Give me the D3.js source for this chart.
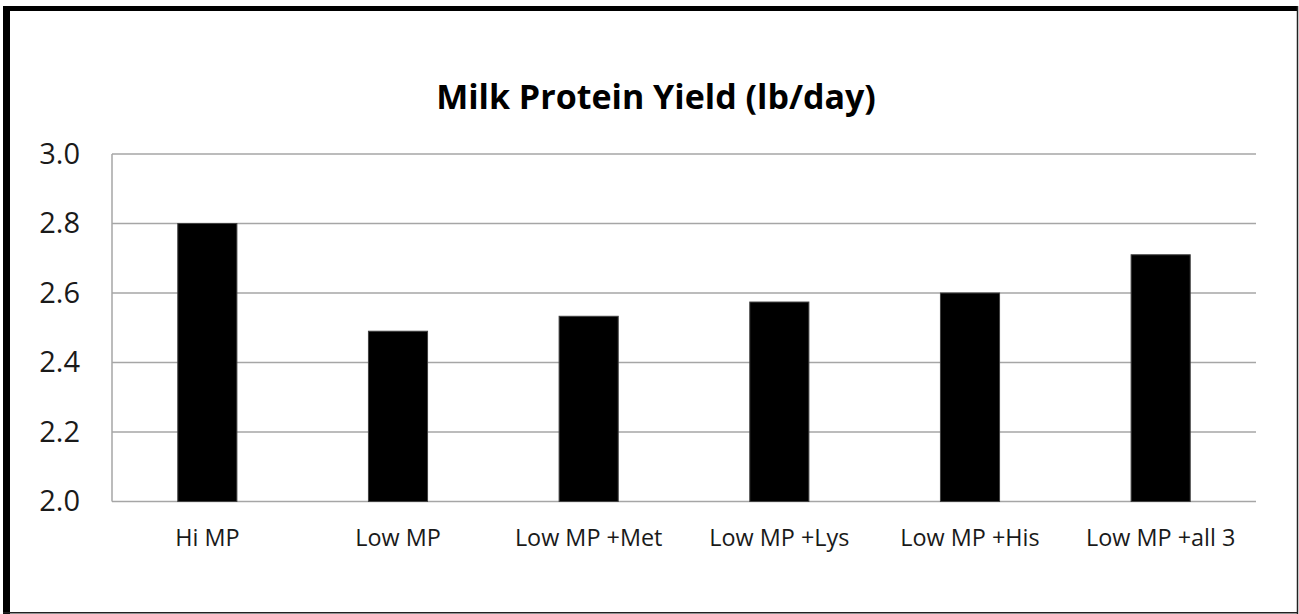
<!DOCTYPE html>
<html>
<head>
<meta charset="utf-8">
<script src="https://cdn.jsdelivr.net/npm/d3@7"></script>
<style>
  html, body { margin: 0; padding: 0; background: #fff; }
  svg { display: block; }
</style>
</head>
<body>
<svg id="chart" width="1299" height="614"></svg>
<script>
// Milk protein yield by diet treatment
const categories = ["Hi MP", "Low MP", "Low MP +Met", "Low MP +Lys", "Low MP +His", "Low MP +all 3"];
const proteinYield = [2.80, 2.49, 2.533, 2.574, 2.60, 2.71];
const yTicks = [2.0, 2.2, 2.4, 2.6, 2.8, 3.0];
const titleText = "Milk Protein Yield (lb/day)";

const svg = d3.select("#chart");
const W = 1299, H = 614;
const plot = { left: 112, right: 1256, top: 154, bottom: 501.5 };

// frame around the chart: heavy top/left edges, thin right/bottom edges
svg.append("rect").attr("x", 0).attr("y", 0).attr("width", W).attr("height", H).attr("fill", "#fff");
svg.append("rect").attr("x", 3).attr("y", 6).attr("width", 7).attr("height", H - 6).attr("fill", "#000");
svg.append("rect").attr("x", 3).attr("y", 6).attr("width", W - 4).attr("height", 5).attr("fill", "#000");
svg.append("line").attr("x1", 1297.5).attr("x2", 1297.5).attr("y1", 6).attr("y2", H)
  .attr("stroke", "#222").attr("stroke-width", 1.5);
svg.append("line").attr("x1", 3).attr("x2", 1298).attr("y1", 612.8).attr("y2", 612.8)
  .attr("stroke", "#222").attr("stroke-width", 1.5);

const x = d3.scaleBand().domain(categories).range([plot.left, plot.right]).paddingInner(0.69).paddingOuter(0.345);
const y = d3.scaleLinear().domain([2.0, 3.0]).range([plot.bottom, plot.top]);

// horizontal gridlines
svg.append("g").selectAll("line").data(yTicks).join("line")
  .attr("x1", plot.left).attr("x2", plot.right)
  .attr("y1", d => y(d)).attr("y2", d => y(d))
  .attr("stroke", "#a6a6a6").attr("stroke-width", 1.5);

// value axis line
svg.append("line").attr("x1", plot.left).attr("x2", plot.left)
  .attr("y1", plot.top).attr("y2", plot.bottom)
  .attr("stroke", "#a6a6a6").attr("stroke-width", 1.5);

// y-axis tick labels
const yAxis = d3.axisLeft(y).tickValues(yTicks).tickFormat(d3.format(".1f")).tickSize(0).tickPadding(32);
const gy = svg.append("g").attr("transform", `translate(${plot.left},0)`).call(yAxis);
gy.select(".domain").remove();
gy.selectAll("text").attr("font-family", "'Open Sans', sans-serif").attr("font-size", 29)
  .attr("fill", "#1a1a1a");

// bars
svg.append("g").selectAll("rect").data(categories).join("rect")
  .attr("x", d => x(d))
  .attr("width", x.bandwidth())
  .attr("y", (d, i) => y(proteinYield[i]))
  .attr("height", (d, i) => y(2.0) - y(proteinYield[i]))
  .attr("fill", "#000")
  .attr("stroke", "#404040").attr("stroke-width", 1);

// category labels
const xAxis = d3.axisBottom(x).tickSize(0).tickPadding(28);
const gx = svg.append("g").attr("transform", `translate(0,${plot.bottom})`).call(xAxis);
gx.select(".domain").remove();
gx.selectAll("text").attr("font-family", "'Open Sans', sans-serif").attr("font-size", 23.4)
  .attr("fill", "#1a1a1a");

// title
svg.append("text")
  .attr("x", 656).attr("y", 109)
  .attr("text-anchor", "middle")
  .attr("font-family", "'Open Sans', sans-serif")
  .attr("font-weight", "bold")
  .attr("font-size", 34)
  .attr("fill", "#000")
  .text(titleText);
</script>
</body>
</html>
